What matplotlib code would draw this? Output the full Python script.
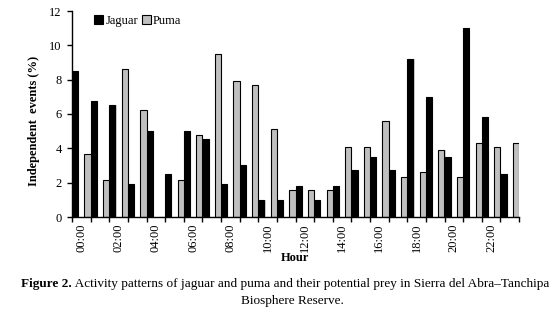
import numpy as np
import matplotlib
matplotlib.use("Agg")
import matplotlib.pyplot as plt
from matplotlib.patches import Patch

hours = [f"{h:02d}:00" for h in range(24)]
jaguar = [8.5, 6.75, 6.55, 1.95, 5.0, 2.5, 5.0, 4.55, 1.95, 3.05, 1.0, 1.0,
          1.8, 1.0, 1.8, 2.75, 3.5, 2.75, 9.2, 7.0, 3.5, 11.0, 5.8, 2.5]
puma = [3.65, 2.15, 8.6, 6.25, 0.0, 2.15, 4.75, 9.5, 7.95, 7.7, 5.15, 1.55,
        1.55, 1.55, 4.1, 4.1, 5.6, 2.35, 2.6, 3.9, 2.35, 4.3, 4.1, 4.3]
yticks = [0, 2, 4, 6, 8, 10, 12]

plt.rcParams['font.family'] = ['Liberation Serif', 'DejaVu Serif']

fig = plt.figure(figsize=(5.53, 3.15), dpi=100)
ax = fig.add_axes([72/553, 1-217/315, (519-72)/553, (217-11)/315])

x = np.arange(len(hours))
w = 1/3
# subtle shadow
ax.bar(x - w + 0.06, jaguar, width=w, color='#d0d0d0', edgecolor='none', zorder=1)
ax.bar(x + w + 0.06, puma, width=w, color='#d0d0d0', edgecolor='none', zorder=1)
ax.bar(x - w, jaguar, width=w, color='black', edgecolor='black', linewidth=0.8, zorder=2, label='Jaguar')
ax.bar(x + w, puma, width=w, color='#bfbfbf', edgecolor='black', linewidth=0.8, zorder=2, label='Puma')

ax.set_xlim(-0.5, len(hours) - 0.5)
ax.set_ylim(0, 12)
ax.set_yticks(yticks)
ax.tick_params(axis='y', direction='out', length=3.5, width=1, labelsize=9, pad=4)

ax.set_xticks(x[::2])
ax.set_xticklabels(hours[::2], rotation=90, fontsize=9)
ax.tick_params(axis='x', length=0, pad=5)
ax.set_xticks(np.arange(-0.5, len(hours), 1), minor=True)
ax.tick_params(axis='x', which='minor', direction='out', length=3.5, width=1)

for s in ['top', 'right']:
    ax.spines[s].set_visible(False)
for s in ['left', 'bottom']:
    ax.spines[s].set_linewidth(1)

ax.set_ylabel('Independent  events (%)', fontsize=9, fontweight='bold')
ax.yaxis.set_label_coords(-0.072, 0.465)
fig.text(295/553, 1-258/315, 'Hour', fontsize=9, fontweight='bold', ha='center', va='center')

handles = [Patch(facecolor='black', edgecolor='black', linewidth=0.8),
           Patch(facecolor='#bfbfbf', edgecolor='black', linewidth=0.8)]
ax.legend(handles, ['Jaguar', 'Puma'], loc='upper left', bbox_to_anchor=(0.03, 1.025),
          ncol=2, frameon=False, fontsize=9, handlelength=0.7, handleheight=0.7,
          handletextpad=0.2, columnspacing=0.3, borderpad=0.2)

t1 = fig.text(21/553, 1-284/315, 'Figure 2.', fontsize=9.5, fontweight='bold', ha='left', va='center')
fig.canvas.draw()
ax.annotate(' Activity patterns of jaguar and puma and their potential prey in Sierra del Abra\u2013Tanchipa',
            xy=(1, 0.5), xycoords=t1, va='center', ha='left', fontsize=9.5, annotation_clip=False)
fig.text(292/553, 1-301/315, 'Biosphere Reserve.', fontsize=9.5, ha='center', va='center')

fig.savefig('out.png', dpi=100)
